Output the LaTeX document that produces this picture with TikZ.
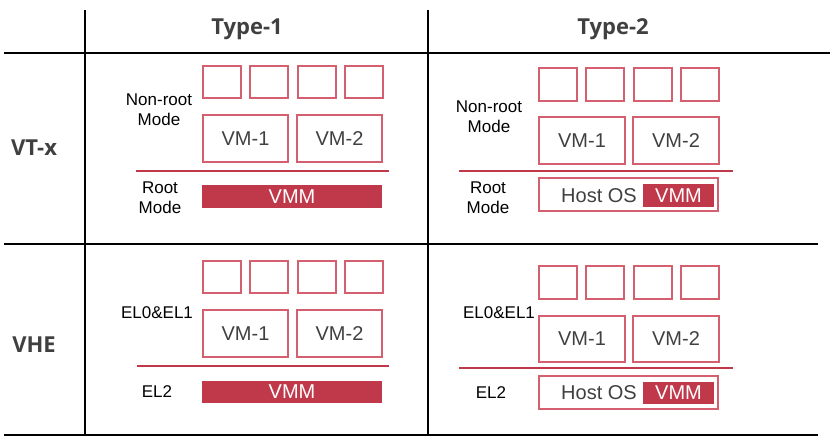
\documentclass[tikz,border=0pt]{standalone}
\usepackage{fontspec}
\setmainfont{Liberation Sans}
\newfontfamily\headfont{Open Sans}
\definecolor{vred}{HTML}{C0394B}
\definecolor{bred}{HTML}{D4606F}
\definecolor{tgray}{HTML}{404040}
\begin{document}
\begin{tikzpicture}[x=1pt,y=-1pt,
  gridline/.style={line width=2.4pt, black},
  sbox/.style={draw=bred, line width=1.1pt, minimum width=38pt, minimum height=32pt, inner sep=0pt},
  vmbox/.style={draw=bred, line width=1.1pt, minimum width=85pt, minimum height=47pt, inner sep=0pt, font=\fontsize{20}{24}\selectfont, text=tgray},
  hostbox/.style={draw=bred, line width=1.1pt, minimum width=179pt, minimum height=33pt, inner sep=0pt},
  vmmbar/.style={fill=vred, text=white, inner sep=0pt, font=\fontsize{20}{24}\selectfont},
  divider/.style={draw=vred, line width=2pt},
  lbl/.style={font=\fontsize{17}{20}\selectfont, align=center, inner sep=0pt},
  head/.style={font=\headfont\bfseries\fontsize{22}{26}\selectfont, text=tgray},
  rowhead/.style={font=\headfont\bfseries\fontsize{22}{26}\selectfont, text=tgray}
]
\useasboundingbox (0,0) rectangle (830,440);
% grid
\draw[gridline] (4,52.7) -- (830,52.7);
\draw[gridline] (4,244) -- (818,244);
\draw[gridline] (4,435) -- (818,435);
\draw[gridline] (85,10) -- (85,435);
\draw[gridline] (428,10) -- (428,435);
% headers
\node[head] (t1) at (247,29) {Type-1};
\node[head] (t2) at (613,29) {Type-2};
\node[rowhead] (vtx) at (34,148) {VT-x};
\node[rowhead] (vhe) at (34,345) {VHE};

% ---- VT-x / Type-1
\foreach \x [count=\i] in {222,269,317,364} \node[sbox] (a\i) at (\x,82) {};
\node[vmbox] (avm1) at (245.5,138.5) {VM-1};
\node[vmbox] (avm2) at (339.5,138.5) {VM-2};
\coordinate (adl) at (136,171); \coordinate (adr) at (389,171);
\draw[divider] (adl) -- (adr);
\node[vmmbar, minimum width=180pt, minimum height=23pt] (avmm) at (292,196.5) {VMM};
\node[lbl] (anr) at (159,110) {Non-root\\Mode};
\node[lbl] (ar) at (160,198) {Root\\Mode};

% ---- VT-x / Type-2
\foreach \x [count=\i] in {558,605,653,700} \node[sbox, minimum height=33pt] (b\i) at (\x,84.5) {};
\node[vmbox, minimum width=86pt] (bvm1) at (582,140.5) {VM-1};
\node[vmbox, minimum width=86pt] (bvm2) at (676,140.5) {VM-2};
\coordinate (bdl) at (459,171); \coordinate (bdr) at (733,171);
\draw[divider] (bdl) -- (bdr);
\node[hostbox] (bhost) at (628.5,194.5) {};
\node[vmmbar, minimum width=71pt, minimum height=23pt] (bvmm) at (678.5,195.5) {VMM};
\node[font=\fontsize{20}{24}\selectfont, text=tgray, inner sep=0pt] (bos) at (599,196) {Host OS};
\node[lbl] (bnr) at (489,117) {Non-root\\Mode};
\node[lbl] (br) at (488,198) {Root\\Mode};

% ---- VHE / Type-1
\foreach \x [count=\i] in {222,269,317,364} \node[sbox] (c\i) at (\x,277) {};
\node[vmbox] (cvm1) at (245.5,333.5) {VM-1};
\node[vmbox] (cvm2) at (339.5,333.5) {VM-2};
\coordinate (cdl) at (137,366); \coordinate (cdr) at (389,366);
\draw[divider] (cdl) -- (cdr);
\node[vmmbar, minimum width=180pt, minimum height=22pt] (cvmm) at (292,392) {VMM};
\node[lbl] (cel01) at (157,313) {EL0\&EL1};
\node[lbl] (cel2) at (157,392) {EL2};

% ---- VHE / Type-2
\foreach \x [count=\i] in {558,605,653,700} \node[sbox, minimum height=33pt] (d\i) at (\x,282.5) {};
\node[vmbox, minimum width=86pt, minimum height=46pt] (dvm1) at (582,339) {VM-1};
\node[vmbox, minimum width=86pt, minimum height=46pt] (dvm2) at (676,339) {VM-2};
\coordinate (ddl) at (459,368); \coordinate (ddr) at (733,368);
\draw[divider] (ddl) -- (ddr);
\node[hostbox] (dhost) at (628.5,392.5) {};
\node[vmmbar, minimum width=71pt, minimum height=22pt] (dvmm) at (678.5,393) {VMM};
\node[font=\fontsize{20}{24}\selectfont, text=tgray, inner sep=0pt] (dos) at (599,393) {Host OS};
\node[lbl] (del01) at (499,313) {EL0\&EL1};
\node[lbl] (del2) at (491,393) {EL2};
\end{tikzpicture}
\end{document}
